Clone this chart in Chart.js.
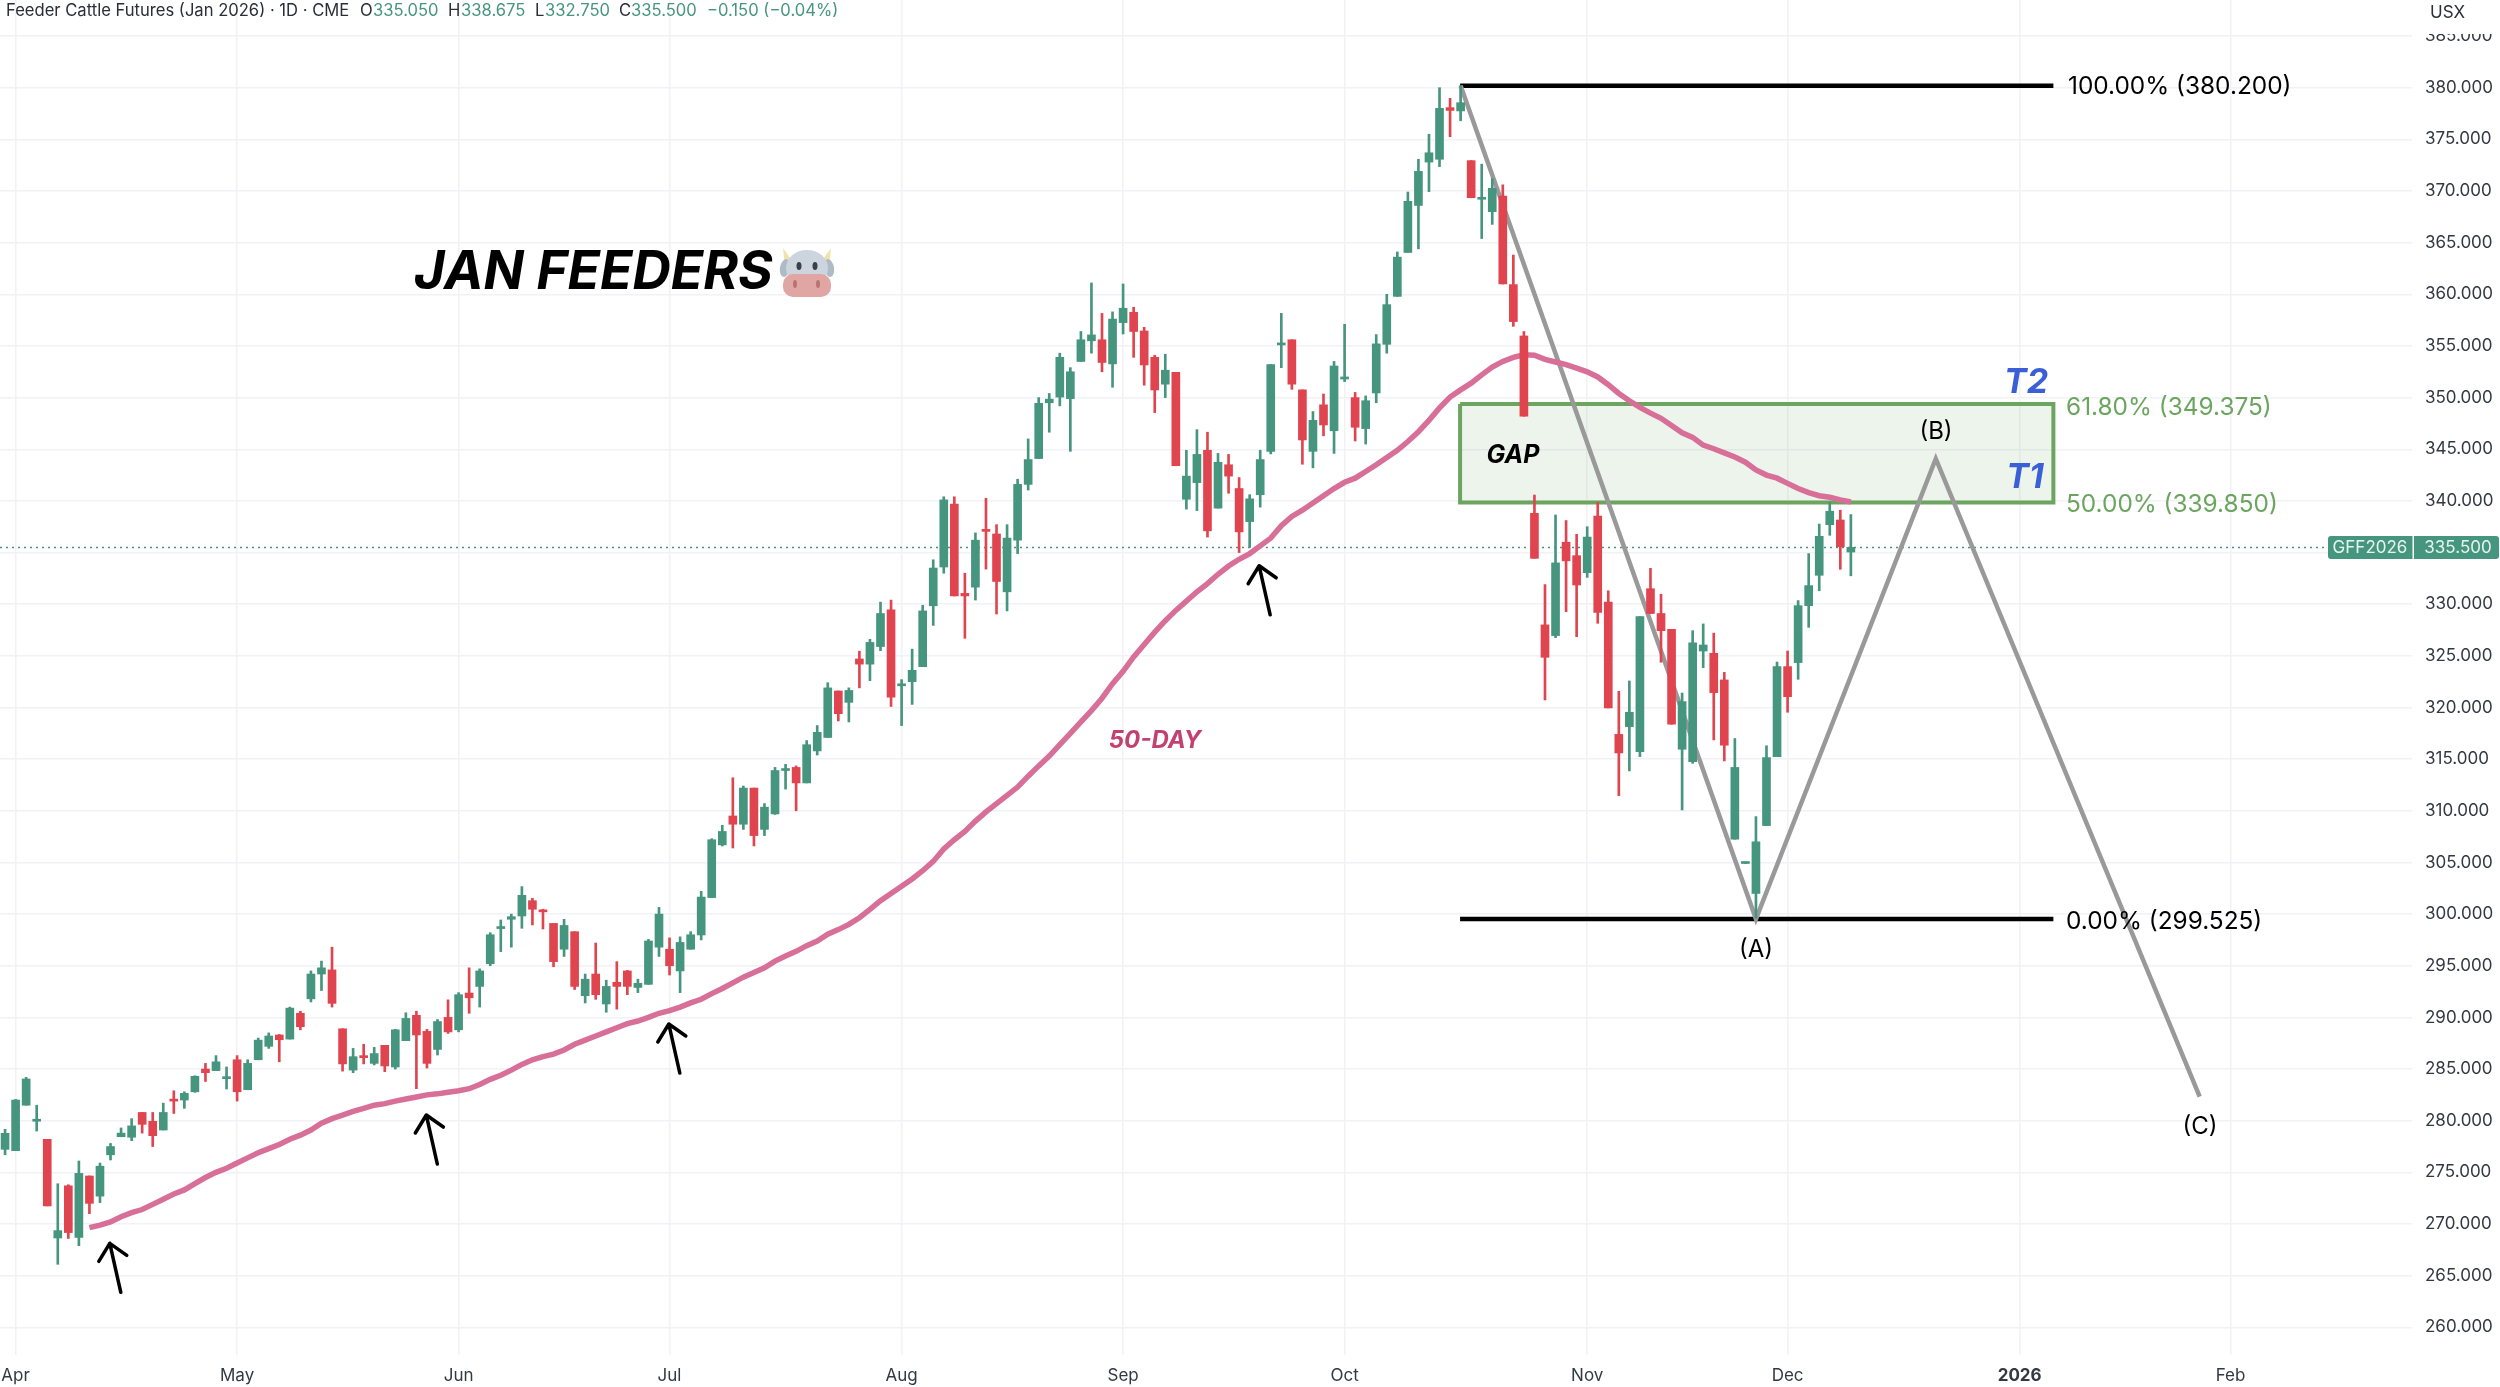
<!DOCTYPE html>
<html>
<head>
<meta charset="utf-8">
<title>Feeder Cattle Futures (Jan 2026)</title>
<script src="https://cdn.jsdelivr.net/npm/chart.js@4/dist/chart.umd.js"></script>
<style>
  html, body { margin: 0; padding: 0; background: #fff; }
  canvas { display: block; }
</style>
</head>
<body>
<canvas id="chart" width="2500" height="1387"></canvas>
<script>
// daily bars, bar index 0 = Apr 1, first visible bar is Mar 31
const firstBar = -1;
const opens = [277.23,277.1,281.5,279.95,278.2,268.65,273.7,268.7,274.65,272.7,276.7,278.45,278.4,280.8,279.94,279.1,282,282,282.8,285,284.85,284.07,285.9,283,285.9,287.2,288.3,287.9,290.4,291.8,294.2,294.6,288.9,284.9,286.3,285.55,287.3,285.2,287.75,290.2,288.65,286.9,290,288.8,292.36,293,295.2,298.6,299.5,299.82,301.3,300.32,299.1,296.6,298.3,292.1,294.2,291.3,293.4,294.5,292.9,293.2,296.8,296.6,294.5,296.6,297.98,301.6,306.7,309.5,308.7,312.2,308.2,309.7,313.9,314.2,312.7,315.8,317.1,321.6,320.5,324.7,324.2,325.9,329.45,322.1,322.5,323.95,329.85,333.6,339.7,331.05,331.65,337.2,336.8,331.2,336.2,341.6,344.1,349.5,350.05,349.9,353.5,355.5,355.6,353.26,357.26,358.26,356.45,353.9,351.3,352.45,340.16,341.77,344.9,339.3,343.5,341.2,338,340.6,344.8,355.1,355.6,350.75,344.8,349.3,346.8,351.8,350,347,350.45,355.16,359.8,364.05,368.6,372.8,373.07,378.07,377.75,372.94,369.2,368,369.5,360.94,355.97,338.8,328,326.96,336,334.7,333.05,338.54,330.2,317.4,318.15,315.73,331.5,329.1,327.57,315.96,314.76,325.47,325.25,322.67,307.25,304.9,302,308.57,315.25,323.96,324.35,329.86,332.8,337.7,338.15,335.05];
const highs = [279.17,282.06,284.2,281.5,278.2,273.9,273.8,276.1,274.65,275.9,277.8,279.3,280.2,280.8,280.8,281.7,282.9,282.8,284.35,285.55,286.3,285.2,286.3,285.9,288,288.5,288.35,291,290.6,294.5,295.45,296.8,288.9,287,287.4,287.1,287.3,288.85,290.45,290.6,288.85,289.8,291.7,292.4,294.8,294.7,298.2,299.43,300,302.66,301.53,300.47,299.1,299.5,298.3,294.2,297.2,293.6,295.4,294.55,293.7,297.55,300.65,297.7,297.8,298.3,302.2,307.3,308.6,313.2,312.4,312.2,310.7,314.2,314.5,314.35,316.8,318.25,322.4,321.6,321.9,325.45,326.6,330.2,330.4,322.7,325.65,329.9,334.3,340.4,340.4,333,336.9,340.26,337.7,337.7,342.1,346,350,350.4,354.3,352.9,356.4,361.1,358.15,358.3,361,358.75,356.8,354.1,354.2,352.45,344.9,346.9,346.65,344.6,344.5,342.26,340.6,344.9,353.2,358.16,355.6,350.75,348.65,350.35,353.5,357.1,350.5,350.16,356.1,360,364.1,369.9,373.07,375.5,380,378.97,380.2,372.94,372.6,371.2,370.6,363.8,356.4,340.57,331.9,338.64,338.1,336.76,337.5,339.86,331.3,321.57,322.57,328.8,333.47,330.96,327.57,321.4,327.44,328.09,327.2,323.4,317,305,309.44,316.3,324.4,325.47,330.35,334.9,337.76,339.86,339.1,338.675];
const lows = [276.7,277.1,281.5,279,271.75,266.1,268.6,267.9,271,272.07,276.2,278.45,278.07,278.8,277.5,279.1,280.7,281.2,282.75,283.8,284.85,283.07,281.9,283,285.9,287,285.7,287.9,288.8,291.5,292.6,291,284.8,284.65,285.5,285.4,284.75,285,287.75,283.1,285.1,286.36,288.45,288.6,290.4,291,295,296.37,296.8,298.63,298.95,298.56,294.9,295.9,292.7,291.4,291.75,290.5,290.8,292.2,292.4,293.2,295.9,294.1,292.4,296.6,297.5,301.6,306.6,306.4,308.2,306.6,307.6,309.65,312.1,310,312.7,315.4,317.1,318.7,318.6,321.9,322.6,325.5,320.1,318.25,320.3,323.95,327.95,333,330.8,326.7,330.4,333.4,329.05,329.35,334.9,341.05,344.1,346.65,349.2,344.8,353.5,354.3,352.5,351,356.16,353.9,351.2,348.55,350,343.4,339.2,339.06,336.5,339.3,340.74,335,335.5,339.4,344.55,352.9,350.8,343.55,343.2,346.3,344.6,351.55,345.8,345.5,349.5,354.3,359.8,364.05,364.4,369.94,372.36,375.26,376.8,369.35,365.4,366.77,361,356.9,348.2,334.44,320.73,326.76,329.28,326.86,332.6,328.15,319.96,311.47,313.86,315.25,329.1,324.38,318.38,310.08,314.6,323.86,316.86,314.83,307.25,304.9,299.6,308.57,315.25,319.54,322.73,327.76,331.3,336.67,333.38,332.75];
const closes = [278.78,282,284.04,280.05,271.75,269.36,269.17,274.9,272,275.6,277.5,278.8,279.5,279.65,278.55,280.8,281.9,282.65,284.3,284.65,285.7,284.2,282.8,285.55,287.8,288.2,287.84,290.9,289.1,294.2,294.8,291.36,285.5,286.2,286.1,286.5,285.3,288.8,289.9,288.3,285.55,289.6,288.6,292.2,291.9,294.5,298,298.68,299.75,301.82,300.47,300.22,295.4,298.9,293,293.7,292.2,293,293,293,293.3,297.4,300,295,297.26,298,301.65,307.2,308,308.7,312.2,307.6,310.35,313.9,314,312.7,316.4,317.6,321.9,319.4,321.65,324.2,326.3,329.1,321,322.2,323.6,329.35,333.5,340.1,330.8,330.8,336.2,337.05,332.2,336.4,341.6,344,349.45,349.85,353.9,352.5,355.6,356.07,353.4,357.6,358.65,356.4,353.16,350.74,352.65,343.4,342.4,344.5,337.1,343.74,342.4,337,340.2,344,353.2,355.2,351.3,345.9,347.8,347.35,353.06,352,347.13,349.7,355.2,359,363.6,369,371.9,373.7,378,377.8,378.55,369.35,369.25,370.26,361,357.36,348.2,334.44,324.86,334,334.2,331.86,336.5,329.2,319.96,315.6,319.54,328.8,329.1,327.44,318.38,320.57,326.25,326.05,321.44,316.35,314.2,305,307,315.15,323.96,321.05,329.86,331.8,336.57,339,335.57,335.5];

// 50-day average, starts at bar 7
const maFirstBar = 7;
const ma50 = [269.65,269.9,270.2,270.7,271.1,271.4,271.9,272.4,272.9,273.3,273.9,274.5,275,275.4,275.9,276.4,276.9,277.3,277.7,278.2,278.6,279.1,279.75,280.2,280.55,280.9,281.2,281.5,281.65,281.9,282.1,282.3,282.5,282.6,282.75,282.9,283.1,283.5,284,284.4,284.9,285.45,285.9,286.2,286.45,286.85,287.4,287.8,288.2,288.6,289,289.4,289.65,290,290.4,290.65,291,291.4,291.76,292.3,292.8,293.35,293.9,294.35,294.8,295.45,295.95,296.4,296.95,297.4,298.05,298.5,299,299.65,300.45,301.3,302,302.7,303.4,304.2,305.1,306.3,307.2,308,309,309.9,310.7,311.5,312.3,313.35,314.35,315.3,316.4,317.5,318.6,319.7,320.9,322.3,323.5,324.9,326.1,327.3,328.4,329.4,330.3,331.2,332,332.9,333.7,334.35,334.9,335.65,336.4,337.6,338.5,339.1,339.8,340.5,341.2,341.8,342.2,342.85,343.5,344.2,344.9,345.75,346.7,347.8,349,350.05,350.75,351.4,352.2,352.95,353.5,353.9,354.15,354.1,353.7,353.45,353.2,352.85,352.5,352,351.25,350.4,349.7,349.05,348.5,348,347.3,346.6,346.15,345.4,345.05,344.65,344.25,343.75,343,342.5,342.2,341.7,341.2,340.8,340.5,340.35,340.1,339.9];

const priceTicks = [260,265,270,275,280,285,290,295,300,305,310,315,320,325,330,335,340,345,350,355,360,365,370,375,380,385];
const monthBars = [0,21,42,62,84,105,126,149,168,190,210];
const monthLabels = ['Apr','May','Jun','Jul','Aug','Sep','Oct','Nov','Dec','2026','Feb'];

// drawings, [bar, price]
const fibStart = 136.95, fibEnd = 193.2;
const fib100 = 380.2, fib618 = 349.375, fib50 = 339.85, fib0 = 299.525;
const waveBars = [137,165,182.05,207.07];
const wavePrices = [380.2,299.525,344.09,282.33];
const arrowBars = [8.93,38.94,61.93,117.9];
const arrowPrices = [268.13,280.55,289.36,333.72];
const lastPrice = 335.5;

const green = '#46957e', red = '#e0454f', gridColor = '#f1f2f5';
const uiFont = 'Inter, "Liberation Sans", sans-serif';

const bars = opens.map((o, k) => ({ x: firstBar + k, o, h: highs[k], l: lows[k], c: closes[k] }));
const barColors = bars.map(b => (b.c >= b.o ? green : red));

function line(data, color, width, order, extra) {
  return Object.assign({
    type: 'line', data, borderColor: color, borderWidth: width,
    pointRadius: 0, tension: 0, fill: false, order
  }, extra || {});
}

const chartLabels = {
  id: 'chartLabels',
  afterDraw(chart) {
    const ctx = chart.ctx, xs = chart.scales.x, ys = chart.scales.y;
    const X = v => xs.getPixelForValue(v), Y = v => ys.getPixelForValue(v);
    ctx.save();

    // arrows
    ctx.strokeStyle = '#000';
    ctx.lineWidth = 3.5;
    ctx.lineCap = 'round';
    ctx.lineJoin = 'round';
    arrowBars.forEach((bar, k) => {
      const tx = X(bar), ty = Y(arrowPrices[k]);
      ctx.beginPath();
      ctx.moveTo(tx + 11, ty + 49);
      ctx.lineTo(tx, ty);
      ctx.moveTo(tx - 11, ty + 18);
      ctx.lineTo(tx, ty);
      ctx.lineTo(tx + 17, ty + 12);
      ctx.stroke();
    });

    const text = (str, x, y, font, color, align) => {
      ctx.font = font;
      ctx.fillStyle = color;
      ctx.textAlign = align || 'left';
      ctx.textBaseline = 'middle';
      ctx.fillText(str, x, y);
    };

    // header
    const h = '16.6px ' + uiFont;
    text('Feeder Cattle Futures (Jan 2026) · 1D · CME', 6, 11, h, '#2a2e39');
    text('O', 360, 11, h, '#2a2e39'); text('335.050', 373, 11, h, green);
    text('H', 448, 11, h, '#2a2e39'); text('338.675', 461, 11, h, green);
    text('L', 535, 11, h, '#2a2e39'); text('332.750', 545, 11, h, green);
    text('C', 619, 11, h, '#2a2e39'); text('335.500', 631, 11, h, green);
    text('−0.150 (−0.04%)', 707, 11, h, green);

    // scale currency, sits over the clipped top tick
    ctx.fillStyle = '#fff';
    ctx.fillRect(2414, 0, 86, 34);
    text('USX', 2430, 13, '17px ' + uiFont, '#2a2e39');

    // last price tag
    const py = Y(lastPrice);
    ctx.fillStyle = green;
    ctx.beginPath();
    ctx.roundRect(2328, py - 11.5, 171, 23, 3);
    ctx.fill();
    ctx.fillStyle = '#fff';
    ctx.fillRect(2412.5, py - 11.5, 1.5, 23);
    text('GFF2026', 2370, py, '17px ' + uiFont, '#e6f4f0', 'center');
    text('335.500', 2458, py, '17px ' + uiFont, '#e6f4f0', 'center');

    // fib labels
    const f = '24.4px ' + uiFont;
    text('100.00% (380.200)', 2068, Y(fib100) + 1.5, f, '#000');
    text('61.80% (349.375)', 2066, Y(fib618) + 4, f, '#6ca55f');
    text('50.00% (339.850)', 2066, Y(fib50) + 2, f, '#6ca55f');
    text('0.00% (299.525)', 2066, Y(fib0) + 2.5, f, '#000');

    text('T2', 2026, 383, 'italic bold 34px ' + uiFont, '#3a5fd6', 'center');
    text('T1', 2025, 478, 'italic bold 34px ' + uiFont, '#3a5fd6', 'center');
    text('GAP', 1513, 455, 'italic bold 25px ' + uiFont, '#000', 'center');
    text('50-DAY', 1155, 741, 'italic bold 24px ' + uiFont, '#c2416f', 'center');

    const w = '24px ' + uiFont;
    text('(A)', 1756, 950, w, '#000', 'center');
    text('(B)', 1936, 432, w, '#000', 'center');
    text('(C)', 2200, 1127, w, '#000', 'center');

    text('JAN FEEDERS', 414, 273, 'italic bold 53px ' + uiFont, '#000');

    // cow face
    ctx.fillStyle = '#efe3ab';
    ctx.beginPath(); ctx.moveTo(783, 248); ctx.lineTo(793, 262); ctx.lineTo(785, 266); ctx.closePath(); ctx.fill();
    ctx.beginPath(); ctx.moveTo(831, 248); ctx.lineTo(821, 262); ctx.lineTo(829, 266); ctx.closePath(); ctx.fill();
    ctx.fillStyle = '#aebac4';
    ctx.beginPath(); ctx.ellipse(785, 268, 5, 9, 0.2, 0, Math.PI * 2); ctx.fill();
    ctx.beginPath(); ctx.ellipse(829, 268, 5, 9, -0.2, 0, Math.PI * 2); ctx.fill();
    ctx.fillStyle = '#ccd5de';
    ctx.beginPath(); ctx.ellipse(807, 268, 21, 18, 0, 0, Math.PI * 2); ctx.fill();
    ctx.fillStyle = '#dfa6a3';
    ctx.beginPath(); ctx.roundRect(783, 274, 48, 23, 10); ctx.fill();
    ctx.fillStyle = '#b97372';
    ctx.beginPath(); ctx.ellipse(795, 284, 2, 4, 0, 0, Math.PI * 2); ctx.fill();
    ctx.beginPath(); ctx.ellipse(818, 284, 2, 4, 0, 0, Math.PI * 2); ctx.fill();
    ctx.fillStyle = '#3b3f46';
    ctx.beginPath(); ctx.ellipse(799, 266, 2.5, 4, 0, 0, Math.PI * 2); ctx.fill();
    ctx.beginPath(); ctx.ellipse(815, 266, 2.5, 4, 0, 0, Math.PI * 2); ctx.fill();

    ctx.restore();
  }
};

new Chart(document.getElementById('chart'), {
  data: {
    datasets: [
      { type: 'bar', data: bars.map(b => ({ x: b.x, y: [Math.min(b.o, b.c), Math.max(b.o, b.c)] })),
        backgroundColor: barColors, barThickness: 8, minBarLength: 2, grouped: false, order: 1 },
      { type: 'bar', data: bars.map(b => ({ x: b.x, y: [b.l, b.h] })),
        backgroundColor: barColors, barThickness: 2, grouped: false, order: 2 },
      line(ma50.map((v, k) => ({ x: maFirstBar + k, y: v })), '#d86f98', 5.5, 3),
      line(waveBars.map((b, k) => ({ x: b, y: wavePrices[k] })), '#999999', 4.5, 4),
      line([{ x: fibStart, y: fib100 }, { x: fibEnd, y: fib100 }], '#000', 4.5, 5),
      line([{ x: fibStart, y: fib0 }, { x: fibEnd, y: fib0 }], '#000', 4.5, 5),
      line([
        { x: fibStart, y: fib618 }, { x: fibEnd, y: fib618 }, { x: fibEnd, y: fib50 },
        { x: fibStart, y: fib50 }, { x: fibStart, y: fib618 }
      ], '#6ca55f', 4, 6, { fill: 'shape', backgroundColor: 'rgba(108,165,95,0.12)' }),
      line([{ x: -1.48, y: lastPrice }, { x: 219.25, y: lastPrice }], '#46957e', 1.5, 7, { borderDash: [2, 4] })
    ]
  },
  options: {
    responsive: false,
    animation: false,
    devicePixelRatio: 1,
    layout: { padding: 0 },
    plugins: { legend: { display: false }, tooltip: { enabled: false } },
    scales: {
      x: {
        type: 'linear', offset: false, min: -1.479, max: 227.2,
        grid: { color: gridColor, lineWidth: 1.5, drawTicks: false, offset: false },
        border: { display: false },
        afterBuildTicks(scale) { scale.ticks = monthBars.map(value => ({ value })); },
        afterFit(scale) { scale.height = 32; scale.paddingLeft = 0; scale.paddingRight = 0; },
        ticks: {
          autoSkip: false, maxRotation: 0, padding: 11, color: '#333842',
          font: ctx => ({ family: uiFont, size: 17, weight: monthLabels[ctx.index] === '2026' ? 'bold' : 'normal' }),
          callback: (value, i) => monthLabels[i]
        }
      },
      y: {
        position: 'right', min: 257.32, max: 388.49,
        grid: { color: gridColor, lineWidth: 1.5, drawTicks: false },
        border: { display: false },
        afterBuildTicks(scale) { scale.ticks = priceTicks.map(value => ({ value })); },
        afterFit(scale) { scale.width = 88; scale.paddingTop = 0; scale.paddingBottom = 0; },
        ticks: {
          autoSkip: false, padding: 13, color: '#333842',
          font: { family: uiFont, size: 17 },
          callback: value => value.toFixed(3)
        }
      }
    }
  },
  plugins: [chartLabels]
});
</script>
</body>
</html>
